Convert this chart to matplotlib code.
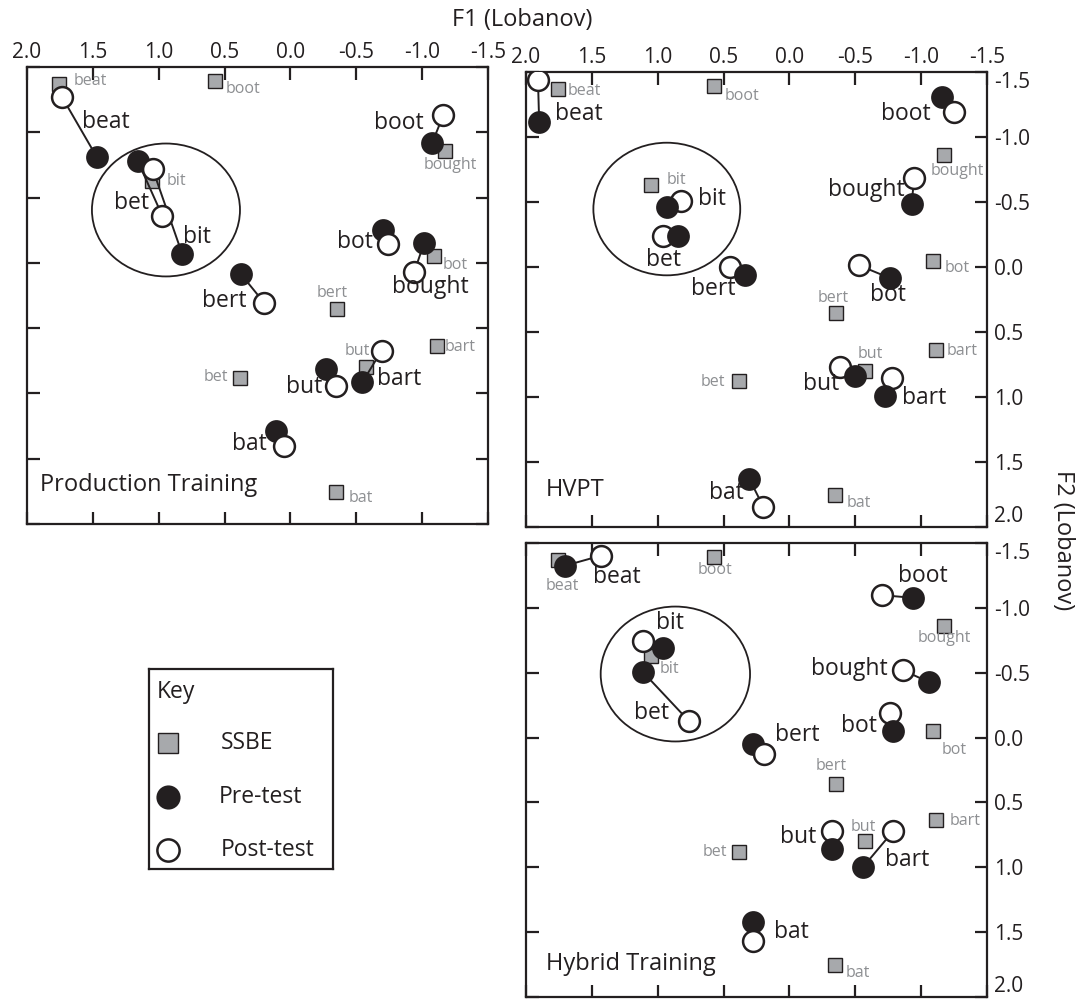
import matplotlib
matplotlib.use("Agg")
import matplotlib.pyplot as plt
from matplotlib.patches import Ellipse

plt.rcParams['font.family'] = ['Open Sans', 'DejaVu Sans']
plt.rcParams['axes.unicode_minus'] = False

# ---------------------------------------------------------------- data
words = ["beat", "boot", "bit", "bought", "bot", "bert", "bart", "but", "bet", "bat"]

# SSBE reference vowels (Lobanov-normalised F1, F2)
ssbe_f1 = [1.76, 0.57, 1.05, -1.17, -1.09, -0.355, -1.11, -0.57, 0.38, -0.345]
ssbe_f2 = [-1.37, -1.39, -0.63, -0.86, -0.05, 0.355, 0.635, 0.80, 0.88, 1.755]

# Production Training group
prod_pre_f1 = [1.47, -1.075, 0.821, -1.014, -0.70, 0.377, -0.546, -0.268, 1.159, 0.109]
prod_pre_f2 = [-0.81, -0.916, -0.066, -0.15, -0.252, 0.085, 0.914, 0.815, -0.78, 1.287]
prod_post_f1 = [1.734, -1.161, 1.046, -0.941, -0.743, 0.20, -0.693, -0.346, 0.973, 0.046]
prod_post_f2 = [-1.27, -1.132, -0.719, 0.067, -0.145, 0.305, 0.672, 0.943, -0.361, 1.40]

# HVPT group
hvpt_pre_f1 = [1.90, -1.162, 0.926, -0.928, -0.762, 0.339, -0.723, -0.498, 0.849, 0.304]
hvpt_pre_f2 = [-1.115, -1.308, -0.462, -0.487, 0.085, 0.064, 0.992, 0.839, -0.236, 1.63]
hvpt_post_f1 = [1.909, -1.25, 0.827, -0.947, -0.528, 0.45, -0.778, -0.383, 0.959, 0.197]
hvpt_post_f2 = [-1.436, -1.192, -0.505, -0.685, -0.013, 0.0, 0.852, 0.770, -0.236, 1.847]

# Hybrid Training group
hyb_pre_f1 = [1.704, -0.941, 0.957, -1.058, -0.786, 0.276, -0.557, -0.324, 1.112, 0.279]
hyb_pre_f2 = [-1.325, -1.077, -0.691, -0.428, -0.054, 0.052, 1.0, 0.859, -0.505, 1.424]
hyb_post_f1 = [1.433, -0.703, 1.115, -0.864, -0.761, 0.193, -0.787, -0.324, 0.76, 0.279]
hyb_post_f2 = [-1.402, -1.098, -0.745, -0.518, -0.188, 0.126, 0.722, 0.717, -0.124, 1.571]

tick_values = [2.0, 1.5, 1.0, 0.5, 0.0, -0.5, -1.0, -1.5]
tick_labels = ["2.0", "1.5", "1.0", "0.5", "0.0", "-0.5", "-1.0", "-1.5"]
ytick_values = [-1.5, -1.0, -0.5, 0.0, 0.5, 1.0, 1.5, 2.0]
ytick_labels = ["-1.5", "-1.0", "-0.5", "0.0", "0.5", "1.0", "1.5", "2.0"]

# ---------------------------------------------------------------- layout
DPI = 100
W, H = 1079, 999
BLACK = "#231f20"
GREY_FILL = "#a7a9ac"
GREY_TEXT = "#8d8f92"


def px_rect(left, top, right, bottom):
    return [left / W, 1 - bottom / H, (right - left) / W, (bottom - top) / H]


# word label positions (data coords) for the pre/post pairs
prod_labels = {"beat": (1.40, -1.079), "boot": (-0.825, -1.071), "bet": (1.21, -0.459),
               "bit": (0.709, -0.198), "bot": (-0.49, -0.16), "bought": (-1.06, 0.185),
               "bert": (0.504, 0.292), "but": (-0.103, 0.95), "bart": (-0.825, 0.889),
               "bat": (0.314, 1.387)}
hvpt_labels = {"beat": (1.60, -1.174), "boot": (-0.886, -1.174), "bit": (0.587, -0.52),
               "bought": (-0.58, -0.59), "bot": (-0.751, 0.218), "bert": (0.579, 0.167),
               "bart": (-1.025, 1.01), "but": (-0.237, 0.903), "bet": (0.956, -0.051),
               "bat": (0.477, 1.737)}
hyb_labels = {"beat": (1.311, -1.235), "boot": (-1.01, -1.247), "bit": (0.907, -0.887),
              "bought": (-0.454, -0.531), "bot": (-0.524, -0.088), "bert": (-0.061, -0.021),
              "bart": (-0.891, 0.941), "but": (-0.066, 0.766), "bet": (1.045, -0.19),
              "bat": (-0.014, 1.501)}

# small grey SSBE labels: offset in pixels (right, down) and alignment
prod_ssbe_lab = {"beat": (15, -3, "left"), "boot": (10, 8, "left"), "bit": (14, 0, "left"),
                 "bought": (6, 14, "center"), "bot": (9, 9, "left"), "bert": (-5, -16, "center"),
                 "bart": (8, 1, "left"), "but": (4, -16, "right"), "bet": (-12, -1, "right"),
                 "bat": (13, 6, "left")}
hvpt_ssbe_lab = {"beat": (10, 2, "left"), "boot": (10, 10, "left"), "bit": (15, -5, "left"),
                 "bought": (14, 16, "center"), "bot": (12, 7, "left"), "bert": (-3, -15, "center"),
                 "bart": (11, 1, "left"), "but": (6, -17, "center"), "bet": (-14, 1, "right"),
                 "bat": (12, 8, "left")}
hyb_ssbe_lab = {"beat": (5, 26, "center"), "boot": (1, 13, "center"), "bit": (8, 13, "left"),
                "bought": (1, 12, "center"), "bot": (21, 19, "center"), "bert": (-5, -18, "center"),
                "bart": (14, 1, "left"), "but": (-1, -14, "center"), "bet": (-12, 0, "right"),
                "bat": (11, 8, "left")}

panels = [
    dict(rect=px_rect(27, 67, 488, 524), title="Production Training", title_pos=(1.90, 1.70),
         pre=(prod_pre_f1, prod_pre_f2), post=(prod_post_f1, prod_post_f2),
         labels=prod_labels, ssbe_lab=prod_ssbe_lab, pre_front=[],
         ellipse=((0.945, -0.405), 1.124, 1.018), xlab=True, ylab=False),
    dict(rect=px_rect(526, 72, 987, 527), title="HVPT", title_pos=(1.848, 1.715),
         pre=(hvpt_pre_f1, hvpt_pre_f2), post=(hvpt_post_f1, hvpt_post_f2),
         labels=hvpt_labels, ssbe_lab=hvpt_ssbe_lab,
         pre_front=["bit", "bet", "bert", "but", "bart", "bought", "bot", "bat", "beat"],
         ellipse=((0.931, -0.446), 1.115, 1.02), xlab=True, ylab=True),
    dict(rect=px_rect(526, 543, 987, 997), title="Hybrid Training", title_pos=(1.848, 1.746),
         pre=(hyb_pre_f1, hyb_pre_f2), post=(hyb_post_f1, hyb_post_f2),
         labels=hyb_labels, ssbe_lab=hyb_ssbe_lab, pre_front=["bit", "but", "bot"],
         ellipse=((0.866, -0.49), 1.134, 1.04), xlab=False, ylab=True),
]

fig = plt.figure(figsize=(W / DPI, H / DPI), dpi=DPI)

CIRCLE_MS = 15
SQUARE_MS = 9.5
PX2PT = 72.0 / DPI
WORD_FS = 16.5

for p in panels:
    ax = fig.add_axes(p["rect"])
    ax.set_xlim(2.0, -1.5)
    ax.set_ylim(2.0, -1.5)
    for s in ax.spines.values():
        s.set_linewidth(1.6)
        s.set_color(BLACK)
    ax.set_xticks(tick_values)
    ax.set_xticklabels(tick_labels)
    ax.set_yticks(ytick_values)
    ax.set_yticklabels(ytick_labels)
    ax.tick_params(direction="in", length=9, width=1.6, color=BLACK,
                   top=True, bottom=True, left=True, right=True,
                   labeltop=p["xlab"], labelbottom=False,
                   labelleft=False, labelright=p["ylab"],
                   labelsize=15, labelcolor=BLACK)
    ax.tick_params(axis="x", pad=3)
    ax.tick_params(axis="y", pad=5)
    # keep the end labels of the right axis inside the frame height
    yt = ax.yaxis.get_major_ticks()
    yt[0].label2.set_va("top")
    yt[-1].label2.set_va("bottom")

    (cx, cy), ew, eh = p["ellipse"]
    ax.add_patch(Ellipse((cx, cy), ew, eh, fill=False, lw=1.3, ec=BLACK, zorder=1))

    # SSBE reference squares with grey labels
    ax.plot(ssbe_f1, ssbe_f2, ls="none", marker="s", ms=SQUARE_MS, mfc=GREY_FILL,
            mec=BLACK, mew=1.0, zorder=2)
    for w, x, y in zip(words, ssbe_f1, ssbe_f2):
        dx, dy, ha = p["ssbe_lab"][w]
        ax.annotate(w, (x, y), xytext=(dx * PX2PT, -dy * PX2PT), textcoords="offset points",
                    ha=ha, va="center", fontsize=11.5, color=GREY_TEXT, zorder=2)

    pre_x, pre_y = p["pre"]
    post_x, post_y = p["post"]
    for i, w in enumerate(words):
        ax.plot([pre_x[i], post_x[i]], [pre_y[i], post_y[i]], color=BLACK, lw=1.4, zorder=3)
        front = w in p["pre_front"]
        ax.plot(pre_x[i], pre_y[i], ls="none", marker="o", ms=CIRCLE_MS, mfc=BLACK,
                mec=BLACK, mew=1.4, zorder=5 if front else 4)
        ax.plot(post_x[i], post_y[i], ls="none", marker="o", ms=CIRCLE_MS, mfc="white",
                mec=BLACK, mew=1.8, zorder=4 if front else 5)
        lx, ly = p["labels"][w]
        ax.text(lx, ly, w, ha="center", va="center", fontsize=WORD_FS, color=BLACK, zorder=6)

    tx, ty = p["title_pos"]
    ax.text(tx, ty, p["title"], ha="left", va="center", fontsize=17, color=BLACK)

# axis titles
fig.text(522 / W, 1 - 20 / H, "F1 (Lobanov)", ha="center", va="center", fontsize=17, color=BLACK)
fig.text(1063 / W, 1 - 540 / H, "F2 (Lobanov)", ha="center", va="center", fontsize=17,
         rotation=-90, color=BLACK)

# key
kax = fig.add_axes(px_rect(149, 669, 333, 869))
kax.set_xlim(0, 1)
kax.set_ylim(0, 1)
kax.set_xticks([])
kax.set_yticks([])
for s in kax.spines.values():
    s.set_linewidth(1.6)
    s.set_color(BLACK)
kax.text(0.043, 0.885, "Key", ha="left", va="center", fontsize=16.5, color=BLACK)
kax.plot([0.103], [0.63], ls="none", marker="s", ms=14, mfc=GREY_FILL, mec=BLACK, mew=1.0)
kax.text(0.39, 0.63, "SSBE", ha="left", va="center", fontsize=16.5, color=BLACK)
kax.plot([0.103], [0.36], ls="none", marker="o", ms=16, mfc=BLACK, mec=BLACK, mew=1.4)
kax.text(0.38, 0.36, "Pre-test", ha="left", va="center", fontsize=16.5, color=BLACK)
kax.plot([0.103], [0.095], ls="none", marker="o", ms=16, mfc="white", mec=BLACK, mew=1.8)
kax.text(0.39, 0.095, "Post-test", ha="left", va="center", fontsize=16.5, color=BLACK)

fig.savefig("out.png", dpi=DPI)
